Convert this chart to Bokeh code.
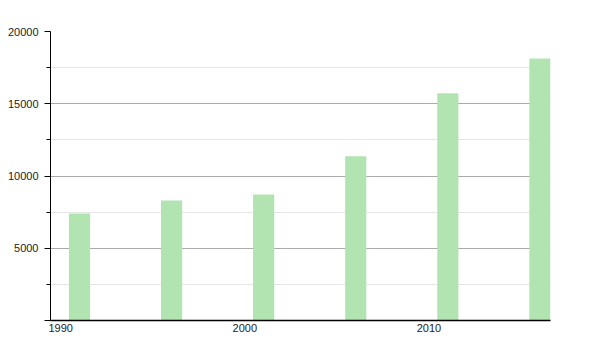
from bokeh.plotting import figure
from bokeh.models import FixedTicker, Range1d
from bokeh.embed import file_html
from bokeh.resources import INLINE

years = [1991, 1996, 2001, 2006, 2011, 2016]
population = [7400, 8300, 8720, 11370, 15730, 18130]
y_major = [0, 5000, 10000, 15000, 20000]
y_minor = [2500, 7500, 12500, 17500]
x_ticks = [1990, 2000, 2010]

bar_w = 1.15

p = figure(width=600, height=350, output_backend="svg", toolbar_location=None,
           x_range=Range1d(1990, max(years) + bar_w), y_range=Range1d(0, 20000),
           min_border_left=50, min_border_right=50, min_border_top=31, min_border_bottom=30)
p.outline_line_color = None
p.background_fill_color = "white"
p.border_fill_color = "white"

p.quad(left=years, right=[y + bar_w for y in years], bottom=0, top=population,
       fill_color="#b1e4b0", line_color=None)

font = "Liberation Sans"

# y axis
ya = p.yaxis[0]
ya.ticker = FixedTicker(ticks=y_major, minor_ticks=y_minor)
ya.major_label_overrides = {0: ""}
ya.axis_line_color = "black"
ya.major_tick_line_color = "black"
ya.minor_tick_line_color = "black"
ya.major_tick_out = 6
ya.major_tick_in = 0
ya.minor_tick_out = 4
ya.minor_tick_in = 0
ya.major_label_standoff = 6
ya.major_label_text_font = font
ya.major_label_text_font_size = "11px"
ya.major_label_text_color = "#222222"

# x axis
xa = p.xaxis[0]
xa.ticker = FixedTicker(ticks=[t + 0.55 for t in x_ticks])
xa.major_label_overrides = {t + 0.55: str(t) for t in x_ticks}
xa.axis_line_color = "black"
xa.axis_line_width = 1.5
xa.major_tick_line_color = None
xa.minor_tick_line_color = None
xa.major_tick_out = 0
xa.major_label_standoff = 3
xa.major_label_text_font = font
xa.major_label_text_font_size = "11px"
xa.major_label_text_color = "#222222"

p.xgrid.visible = False
p.ygrid.ticker = FixedTicker(ticks=y_major, minor_ticks=y_minor)
p.ygrid.grid_line_color = "#aaaaaa"
p.ygrid.minor_grid_line_color = "#e6e6e6"
p.ygrid.level = "underlay"

open("out.html", "w").write(file_html(p, INLINE))
